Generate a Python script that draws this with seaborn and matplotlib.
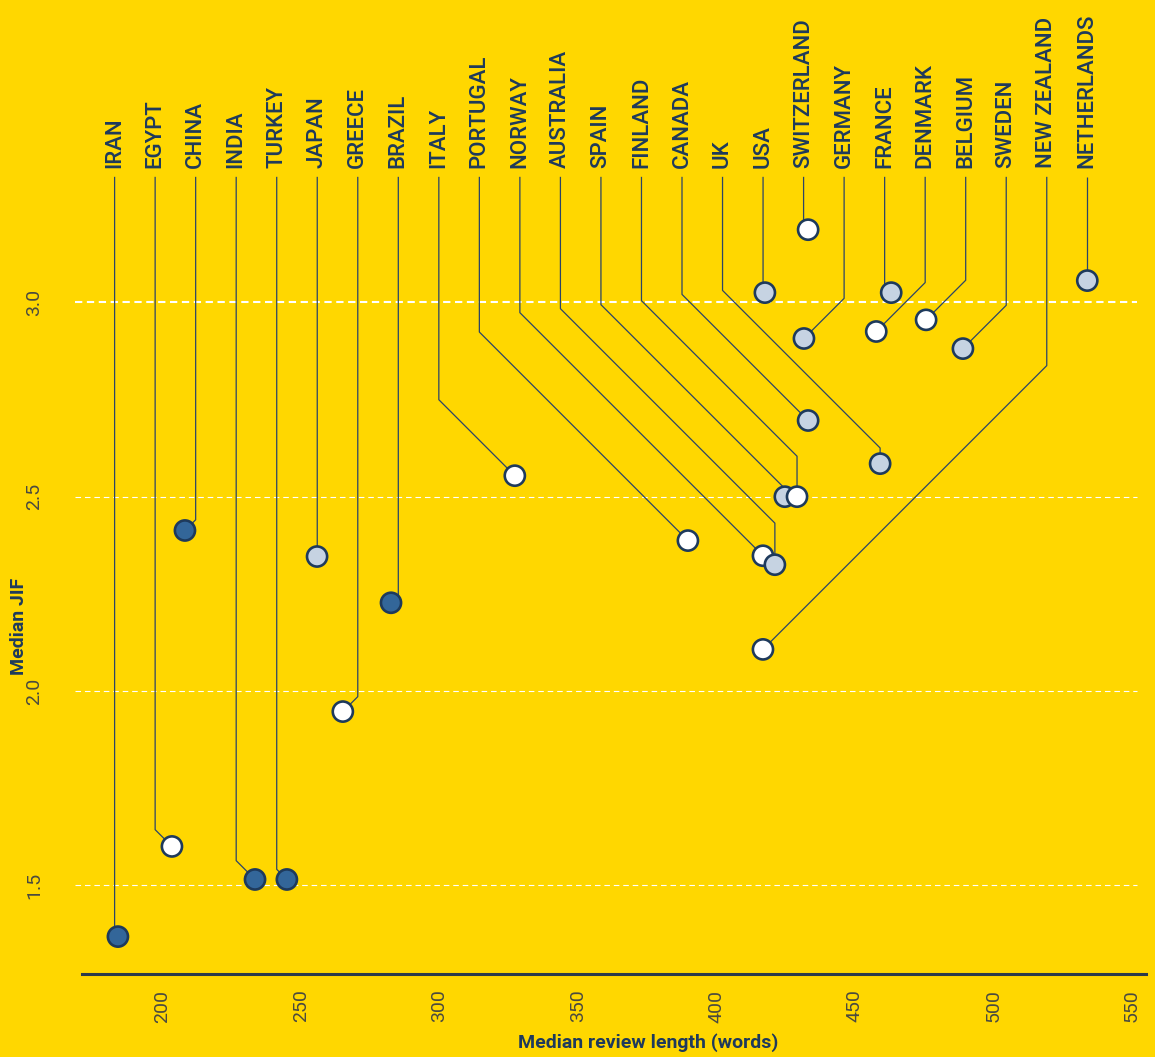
import numpy as np
import pandas as pd
import matplotlib
matplotlib.use("Agg")
import matplotlib.pyplot as plt
import seaborn as sns

# ---------------- data ----------------
countries = ["IRAN", "EGYPT", "CHINA", "INDIA", "TURKEY", "JAPAN", "GREECE", "BRAZIL",
             "ITALY", "PORTUGAL", "NORWAY", "AUSTRALIA", "SPAIN", "FINLAND", "CANADA",
             "UK", "USA", "SWITZERLAND", "GERMANY", "FRANCE", "DENMARK", "BELGIUM",
             "SWEDEN", "NEW ZEALAND", "NETHERLANDS"]
review_length = [183.9, 203.4, 208.1, 233.4, 244.9, 255.8, 265.1, 282.5,
                 327.2, 389.7, 416.8, 421.1, 424.7, 429.1, 433.1,
                 459.1, 417.5, 433.1, 431.6, 463.1, 457.7, 475.7,
                 489.0, 416.8, 533.9]
median_jif = [1.368, 1.600, 2.413, 1.515, 1.515, 2.346, 1.947, 2.227,
              2.554, 2.387, 2.348, 2.325, 2.500, 2.500, 2.696,
              2.585, 3.025, 3.187, 2.907, 3.025, 2.925, 2.955,
              2.881, 2.107, 3.056]
group = ["dark", "white", "dark", "dark", "dark", "light", "white", "dark",
         "white", "white", "white", "light", "light", "white", "light",
         "light", "light", "white", "light", "light", "white", "white",
         "light", "white", "light"]
y_ticks = [1.5, 2.0, 2.5, 3.0]
x_ticks = [200, 250, 300, 350, 400, 450, 500, 550]
threshold = 3.0

df = pd.DataFrame({"country": countries, "length": review_length,
                   "jif": median_jif, "group": group})

# ---------------- style ----------------
BG = "#FFD700"
NAVY = "#1E3A5C"
LINE = "#2B4468"
TICK = "#4A4A40"
palette = {"dark": "#336699", "light": "#C6D3E2", "white": "#FFFFFF"}

sns.set_theme(style="white", rc={"axes.facecolor": BG, "figure.facecolor": BG})
plt.rcParams["font.family"] = ["Roboto", "DejaVu Sans"]

W, H = 1155, 1057
fig = plt.figure(figsize=(W / 100, H / 100), dpi=100)
left_px, right_px, bottom_px = 75, 1146, 974.3
ax = fig.add_axes([left_px / W, 1 - bottom_px / H, (right_px - left_px) / W, bottom_px / H])
ax.set_facecolor(BG)

xlim = (168.4, 555.1)
ylim = (1.271, 3.778)
ax.set_xlim(*xlim)
ax.set_ylim(*ylim)

# grid
for v in y_ticks:
    if v == threshold:
        ax.axhline(v, color="white", lw=1.5, ls=(0, (3.5, 2.2)), zorder=1, xmax=0.992)
    else:
        ax.axhline(v, color="white", lw=0.8, ls=(0, (5, 3.5)), zorder=1, xmax=0.992)

# ---------------- leader lines ----------------
n = len(countries)
label_x = np.linspace(min(review_length) - 1.2, max(review_length), n)
y_top = 3.323
y_text = 3.347
T = ax.transData
Tinv = T.inverted()
top_disp = T.transform((0, y_top))[1]

Lx = np.array([T.transform((lx, y_top))[0] for lx in label_x])
P = np.array([T.transform((x, y)) for x, y in zip(review_length, median_jif)])
dx = P[:, 0] - Lx
bend = P[:, 1] + np.abs(dx)  # display y of the elbow (above point)
gap = 4.0
# right-going: avoid crossings with the previous label's diagonal
for i in range(1, n):
    if dx[i] >= 0 and dx[i - 1] > 0 and P[i - 1, 0] > Lx[i]:
        bend[i] = max(bend[i], bend[i - 1] + gap)
# left-going: mirror
for i in range(n - 2, -1, -1):
    if dx[i] <= 0 and dx[i + 1] < 0 and P[i + 1, 0] < Lx[i]:
        bend[i] = max(bend[i], bend[i + 1] + gap)
bend = np.minimum(bend, top_disp)

for i in range(n):
    pts_disp = [(Lx[i], top_disp), (Lx[i], bend[i]),
                (P[i, 0], bend[i] - abs(dx[i])), (P[i, 0], P[i, 1])]
    pts = Tinv.transform(pts_disp)
    ax.plot(pts[:, 0], pts[:, 1], color=LINE, lw=0.9, zorder=2, solid_capstyle="butt")
    ax.text(label_x[i], y_text, countries[i], rotation=90, ha="center", va="bottom",
            fontsize=16, fontweight="medium", color=NAVY, clip_on=False)

# ---------------- points ----------------
sns.scatterplot(data=df, x="length", y="jif", hue="group", palette=palette,
                s=210, edgecolor=NAVY, linewidth=1.9, legend=False, ax=ax, zorder=3)

# ---------------- axes ----------------
for s in ["top", "right", "left"]:
    ax.spines[s].set_visible(False)
ax.spines["bottom"].set_color("#2B3A4A")
ax.spines["bottom"].set_linewidth(2.2)
ax.spines["bottom"].set_bounds(170.9, 555.1)

ax.set_xticks(x_ticks)
ax.set_yticks(y_ticks)
ax.set_xticklabels([str(v) for v in x_ticks], rotation=90, fontsize=14,
                   fontweight="normal", color=TICK)
ax.set_yticklabels([f"{v:.1f}" for v in y_ticks], rotation=90, va="center",
                   fontsize=14, fontweight="normal", color=TICK)
ax.tick_params(axis="x", length=0, pad=11)
ax.tick_params(axis="y", length=0, pad=23)

ax.set_xlabel("Median review length (words)", fontsize=14, fontweight="bold", color=NAVY)
ax.set_ylabel("Median JIF", fontsize=14, fontweight="bold", color=NAVY)
ax.xaxis.set_label_coords((648 - left_px) / (right_px - left_px), -(1043 - bottom_px) / bottom_px)
ax.yaxis.set_label_coords((19 - left_px) / (right_px - left_px), (bottom_px - 626) / bottom_px)
ax.xaxis.label.set_va("center")
ax.yaxis.label.set_va("center")

fig.savefig("out.png", dpi=100, facecolor=BG)
